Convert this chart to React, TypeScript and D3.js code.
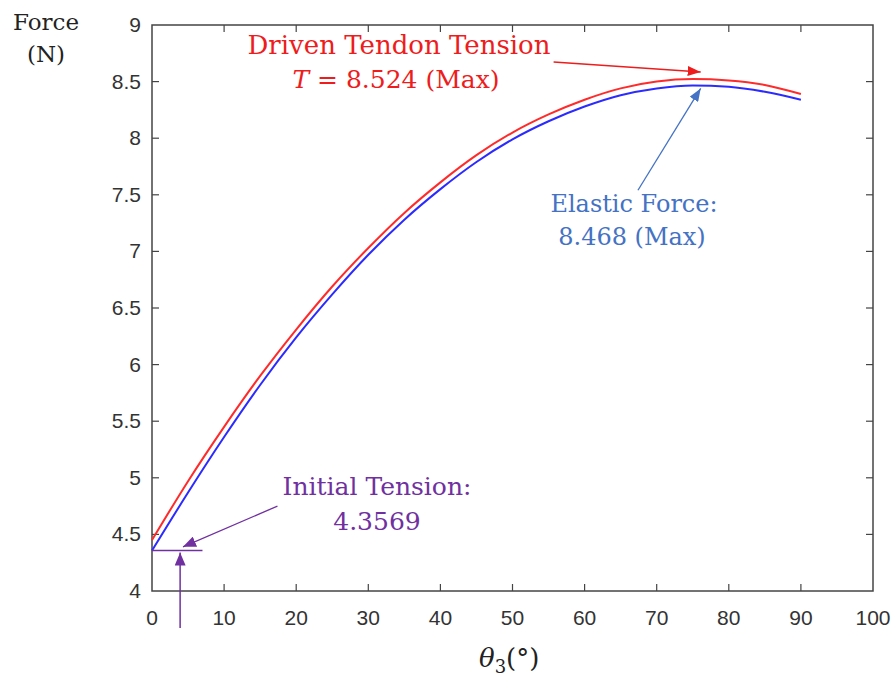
import { useEffect, useRef } from "react";
import * as d3 from "d3";

// theta_3 in degrees
const angles = [0, 5, 10, 15, 20, 25, 30, 35, 40, 45, 50, 55, 60, 65, 70, 75, 80, 85, 90];
// driven tendon tension T (N)
const tendonTension = [4.45, 4.97, 5.45, 5.9, 6.31, 6.69, 7.03, 7.34, 7.61, 7.85, 8.05, 8.21, 8.34, 8.44, 8.5, 8.522, 8.51, 8.47, 8.39];
// elastic force (N)
const elasticForce = [4.357, 4.87, 5.36, 5.82, 6.24, 6.62, 6.97, 7.28, 7.55, 7.79, 7.99, 8.15, 8.28, 8.38, 8.44, 8.466, 8.455, 8.41, 8.34];

const xTicks = [0, 10, 20, 30, 40, 50, 60, 70, 80, 90, 100];
const yTicks = [4, 4.5, 5, 5.5, 6, 6.5, 7, 7.5, 8, 8.5, 9];

const initialTension = 4.3569;

export default function App() {
  const svgRef = useRef<SVGSVGElement>(null);
  const width = 896;
  const height = 679;
  const left = 152, right = 873, top = 25, bottom = 591;

  useEffect(() => {
    const svg = d3.select(svgRef.current);
    svg.selectAll("*").remove();

    const x = d3.scaleLinear().domain([0, 100]).range([left, right]);
    const y = d3.scaleLinear().domain([4, 9]).range([bottom, top]);

    const axisColor = "#444";
    const sans = "'Liberation Sans', Arial, sans-serif";
    const serif = "'DejaVu Serif', serif";

    // arrowheads
    const defs = svg.append("defs");
    const marker = (id: string, color: string, len: number, w: number) => {
      defs.append("marker")
        .attr("id", id)
        .attr("markerUnits", "userSpaceOnUse")
        .attr("markerWidth", len)
        .attr("markerHeight", w)
        .attr("refX", len)
        .attr("refY", w / 2)
        .attr("orient", "auto")
        .append("path")
        .attr("d", `M0,0L${len},${w / 2}L0,${w}Z`)
        .attr("fill", color);
    };
    marker("arrRed", "#ee1c1c", 13, 10);
    marker("arrBlue", "#4472c4", 13, 10);
    marker("arrPurple", "#7030a0", 13, 11);

    // box
    svg.append("rect")
      .attr("x", left).attr("y", top)
      .attr("width", right - left).attr("height", bottom - top)
      .attr("fill", "none").attr("stroke", axisColor).attr("stroke-width", 1.5);

    // ticks (inside, on all sides)
    const tl = 7;
    xTicks.slice(1, -1).forEach((t) => {
      svg.append("line").attr("x1", x(t)).attr("x2", x(t)).attr("y1", bottom).attr("y2", bottom - tl)
        .attr("stroke", axisColor).attr("stroke-width", 1.2);
      svg.append("line").attr("x1", x(t)).attr("x2", x(t)).attr("y1", top).attr("y2", top + tl)
        .attr("stroke", axisColor).attr("stroke-width", 1.2);
    });
    yTicks.slice(1, -1).forEach((t) => {
      svg.append("line").attr("x1", left).attr("x2", left + tl).attr("y1", y(t)).attr("y2", y(t))
        .attr("stroke", axisColor).attr("stroke-width", 1.2);
      svg.append("line").attr("x1", right).attr("x2", right - tl).attr("y1", y(t)).attr("y2", y(t))
        .attr("stroke", axisColor).attr("stroke-width", 1.2);
    });

    // tick labels
    svg.append("g").selectAll("text").data(xTicks).join("text")
      .attr("x", (d) => x(d)).attr("y", 625)
      .attr("text-anchor", "middle")
      .attr("font-family", sans).attr("font-size", 21).attr("fill", "#333")
      .text((d) => String(d));
    svg.append("g").selectAll("text").data(yTicks).join("text")
      .attr("x", 141).attr("y", (d) => y(d) + 7)
      .attr("text-anchor", "end")
      .attr("font-family", sans).attr("font-size", 21).attr("fill", "#333")
      .text((d) => String(d));

    // axis titles
    svg.append("text").attr("x", 46).attr("y", 30).attr("text-anchor", "middle")
      .attr("font-family", serif).attr("font-size", 23).attr("fill", "#222").text("Force");
    svg.append("text").attr("x", 46).attr("y", 62).attr("text-anchor", "middle")
      .attr("font-family", serif).attr("font-size", 23).attr("fill", "#222").text("(N)");

    const xl = svg.append("text").attr("x", 479).attr("y", 667)
      .attr("font-family", serif).attr("font-size", 26).attr("fill", "#222");
    xl.append("tspan").attr("font-style", "italic").text("θ");
    xl.append("tspan").attr("font-size", 18).attr("dy", 6).text("3");
    xl.append("tspan").attr("dy", -6).text("(°)");

    // curves
    const line = d3.line<number>()
      .x((_, i) => x(angles[i]))
      .y((d) => y(d))
      .curve(d3.curveMonotoneX);
    svg.append("path").attr("d", line(tendonTension))
      .attr("fill", "none").attr("stroke", "#ff2a2a").attr("stroke-width", 2);
    svg.append("path").attr("d", line(elasticForce))
      .attr("fill", "none").attr("stroke", "#2b2bff").attr("stroke-width", 2);

    // red annotation
    svg.append("line")
      .attr("x1", x(55.7)).attr("y1", y(8.673)).attr("x2", x(76.1)).attr("y2", y(8.585))
      .attr("stroke", "#ee1c1c").attr("stroke-width", 1.3).attr("marker-end", "url(#arrRed)");
    svg.append("text").attr("x", 399).attr("y", 54).attr("text-anchor", "middle")
      .attr("font-family", serif).attr("font-size", 26).attr("fill", "#ee1c1c")
      .text("Driven Tendon Tension");
    const rt = svg.append("text").attr("x", 396).attr("y", 88).attr("text-anchor", "middle")
      .attr("font-family", serif).attr("font-size", 25).attr("fill", "#ee1c1c");
    rt.append("tspan").attr("font-style", "italic").text("T");
    rt.append("tspan").text(" = 8.524 (Max)");

    // blue annotation
    svg.append("line")
      .attr("x1", x(67.4)).attr("y1", y(7.54)).attr("x2", x(76.1)).attr("y2", y(8.44))
      .attr("stroke", "#4472c4").attr("stroke-width", 1.3).attr("marker-end", "url(#arrBlue)");
    svg.append("text").attr("x", 634).attr("y", 212).attr("text-anchor", "middle")
      .attr("font-family", serif).attr("font-size", 24).attr("fill", "#4472c4")
      .text("Elastic Force:");
    svg.append("text").attr("x", 632).attr("y", 245).attr("text-anchor", "middle")
      .attr("font-family", serif).attr("font-size", 24).attr("fill", "#4472c4")
      .text("8.468 (Max)");

    // purple annotation
    svg.append("line")
      .attr("x1", x(0)).attr("x2", x(7)).attr("y1", y(initialTension)).attr("y2", y(initialTension))
      .attr("stroke", "#7030a0").attr("stroke-width", 1.5);
    svg.append("line")
      .attr("x1", x(17.4)).attr("y1", y(4.75)).attr("x2", x(4.3)).attr("y2", y(4.39))
      .attr("stroke", "#7030a0").attr("stroke-width", 1.3).attr("marker-end", "url(#arrPurple)");
    svg.append("line")
      .attr("x1", x(3.9)).attr("y1", 628).attr("x2", x(3.9)).attr("y2", y(initialTension) + 2)
      .attr("stroke", "#7030a0").attr("stroke-width", 1.5).attr("marker-end", "url(#arrPurple)");
    svg.append("text").attr("x", 377).attr("y", 495).attr("text-anchor", "middle")
      .attr("font-family", serif).attr("font-size", 25).attr("fill", "#7030a0")
      .text("Initial Tension:");
    svg.append("text").attr("x", 377).attr("y", 530).attr("text-anchor", "middle")
      .attr("font-family", serif).attr("font-size", 25).attr("fill", "#7030a0")
      .text(String(initialTension));
  }, []);

  return (
    <div style={{ position: "absolute", left: 0, top: 0 }}>
      <svg width={width} height={height} ref={svgRef} style={{ display: "block", background: "#fff" }}></svg>
    </div>
  );
}
